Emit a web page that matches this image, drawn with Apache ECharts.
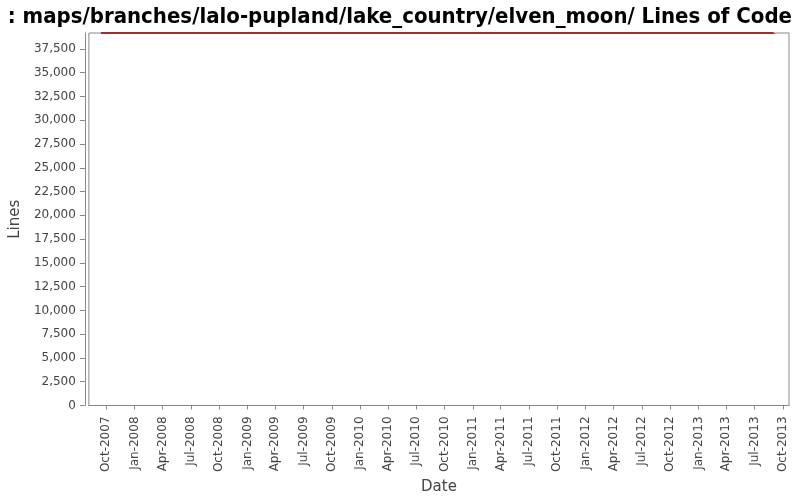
<!DOCTYPE html>
<html>
<head>
<meta charset="utf-8">
<script src="https://cdn.jsdelivr.net/npm/echarts@6/dist/echarts.min.js"></script>
<style>html,body{margin:0;padding:0;background:#fff}#c{width:800px;height:500px}</style>
</head>
<body>
<div id="c"></div>
<script>
var titleText = ': maps/branches/lalo-pupland/lake_country/elven_moon/ Lines of Code';
var lineDates = ['2007-09-14', '2013-09-01'];
var lineValues = [39180, 39180];
var tailDates = ['2013-09-01', '2013-09-03'];
var tailValues = [39180, 39080];
var tickDates = ['2007-10-01','2008-01-01','2008-04-01','2008-07-01','2008-10-01','2009-01-01','2009-04-01','2009-07-01','2009-10-01','2010-01-01','2010-04-01','2010-07-01','2010-10-01','2011-01-01','2011-04-01','2011-07-01','2011-10-01','2012-01-01','2012-04-01','2012-07-01','2012-10-01','2013-01-01','2013-04-01','2013-07-01','2013-10-01'];
var tickLabels = ['Oct-2007','Jan-2008','Apr-2008','Jul-2008','Oct-2008','Jan-2009','Apr-2009','Jul-2009','Oct-2009','Jan-2010','Apr-2010','Jul-2010','Oct-2010','Jan-2011','Apr-2011','Jul-2011','Oct-2011','Jan-2012','Apr-2012','Jul-2012','Oct-2012','Jan-2013','Apr-2013','Jul-2013','Oct-2013'];
var xMin = '2007-08-06', xMax = '2013-10-21';
var yMax = 39180;

function ts(s){ return new Date(s + 'T00:00:00Z').getTime(); }
var tickTs = tickDates.map(ts);
var labelMap = {};
tickTs.forEach(function(t,i){ labelMap[t] = tickLabels[i]; });

var chart = echarts.init(document.getElementById('c'), null, {renderer:'canvas'});
chart.setOption({
  backgroundColor: '#fff',
  animation: false,
  title: {
    text: titleText, right: 3, top: 1,
    textStyle: {fontFamily: 'DejaVu Sans Condensed', fontWeight: 'bold', fontSize: 22, color: '#000'}
  },
  grid: {left: 86, right: 11, top: 33, bottom: 92, show: true, borderColor: '#888', borderWidth: 1, containLabel: false},
  xAxis: {
    type: 'value', min: ts(xMin), max: ts(xMax),
    name: 'Date', nameLocation: 'middle', nameGap: 67,
    nameTextStyle: {fontFamily: 'DejaVu Sans', fontSize: 15, color: '#444'},
    offset: 4,
    axisLine: {show: true, lineStyle: {color: '#888'}},
    axisTick: {show: true, length: 4, lineStyle: {color: '#888'}, customValues: tickTs},
    axisLabel: {
      customValues: tickTs, rotate: 90, fontFamily: 'DejaVu Sans', fontSize: 12, color: '#444', margin: 7,
      formatter: function(v){ return labelMap[v] || ''; }
    },
    splitLine: {show: false}
  },
  yAxis: {
    type: 'value', min: 0, max: yMax, interval: 2500,
    name: 'Lines', nameLocation: 'middle', nameGap: 55, nameRotate: 90,
    nameTextStyle: {fontFamily: 'DejaVu Sans', fontSize: 15, color: '#444'},
    offset: 4,
    axisLine: {show: true, lineStyle: {color: '#888'}},
    axisTick: {show: true, length: 5, lineStyle: {color: '#888'}},
    axisLabel: {
      showMaxLabel: false, fontFamily: 'DejaVu Sans', fontSize: 12, color: '#444', margin: 9,
      formatter: function(v){ return v.toLocaleString('en-US'); }
    },
    splitLine: {show: false}
  },
  series: [{
    type: 'line', showSymbol: false, symbol: 'none',
    data: lineDates.map(function(d,i){ return [ts(d), lineValues[i]]; }),
    lineStyle: {color: '#8b0000', width: 1.5},
    clip: false
  }, {
    type: 'line', showSymbol: false, symbol: 'none',
    data: tailDates.map(function(d,i){ return [ts(d), tailValues[i]]; }),
    lineStyle: {color: '#ff0000', width: 1.5},
    clip: false
  }]
});
</script>
</body>
</html>
